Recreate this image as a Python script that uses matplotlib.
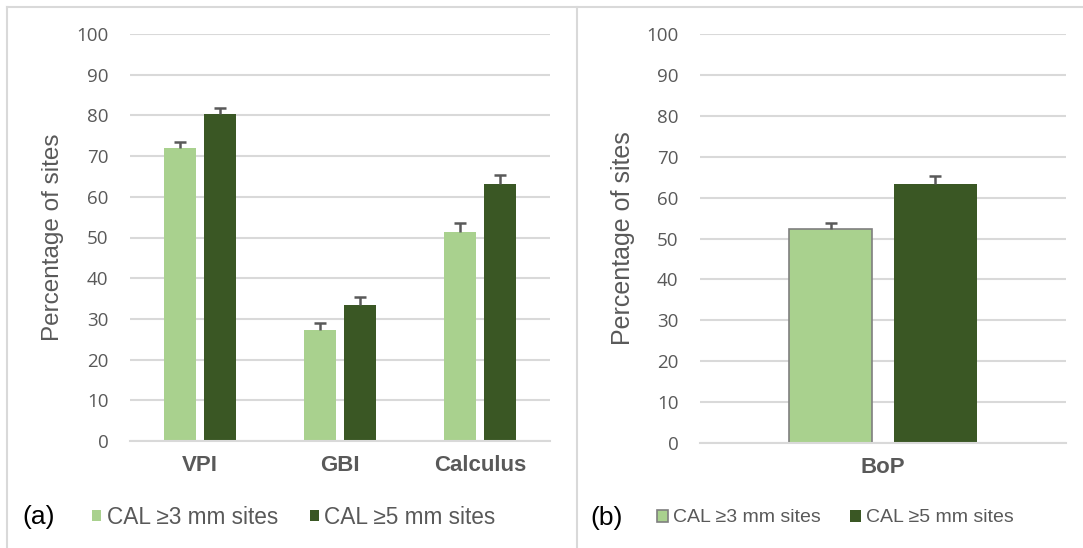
import numpy as np
import matplotlib
matplotlib.use("Agg")
import matplotlib.pyplot as plt
from matplotlib.lines import Line2D

plt.rcParams['font.family'] = ['Liberation Sans', 'DejaVu Sans']

# panel (a)
categories_a = ["VPI", "GBI", "Calculus"]
cal3_a = [72.0, 27.2, 51.3]
cal5_a = [80.3, 33.3, 63.2]
err3_a = [1.5, 1.9, 2.2]
err5_a = [1.5, 2.0, 2.1]

# panel (b)
categories_b = ["BoP"]
cal3_b = [52.3]
cal5_b = [63.3]
err3_b = [1.6]
err5_b = [1.9]

series_names = ["CAL \u22653 mm sites", "CAL \u22655 mm sites"]
yticks = list(range(0, 101, 10))

LIGHT = "#A9D18E"
DARK = "#3A5724"
GRID = "#D9D9D9"
TXT = "#595959"

W, H = 1083, 548
fig = plt.figure(figsize=(W / 100, H / 100), dpi=100)


def style_axes(ax, cats):
    ax.set_ylim(0, 100)
    ax.set_xlim(-0.5, len(cats) - 0.5)
    ax.set_yticks(yticks)
    ax.set_xticks(np.arange(len(cats)))
    ax.set_xticklabels(cats, fontsize=16, fontweight="bold", color=TXT)
    ax.set_yticklabels([str(t) for t in yticks], fontsize=13.5, color=TXT,
                       fontfamily="Open Sans")
    ax.tick_params(axis="y", length=0, pad=15.5)
    ax.tick_params(axis="x", length=0, pad=10)
    for s in ["top", "right", "left"]:
        ax.spines[s].set_visible(False)
    ax.spines["bottom"].set_color(GRID)
    ax.spines["bottom"].set_linewidth(1.5)
    ax.grid(axis="y", color=GRID, linewidth=1.5)
    ax.set_axisbelow(True)


def plus_error(ax, xs, vals, errs):
    # Excel style "plus" error bar: stem up from the bar top and one cap
    vals = np.asarray(vals)
    errs = np.asarray(errs)
    ax.errorbar(xs, vals, yerr=[np.zeros(len(errs)), errs], fmt="none",
                ecolor=TXT, elinewidth=1.8, capsize=0)
    ax.plot(xs, vals + errs, ls="none", marker="_", markersize=8.5,
            mew=1.8, color=TXT)


# ---- (a)
ax1 = fig.add_axes([130 / W, (H - 441) / H, 420 / W, 407 / H])
x = np.arange(len(categories_a))
bw, off = 0.229, 0.143
b1 = ax1.bar(x - off, cal3_a, bw, color=LIGHT, label=series_names[0])
b2 = ax1.bar(x + off, cal5_a, bw, color=DARK, label=series_names[1])
plus_error(ax1, x - off, cal3_a, err3_a)
plus_error(ax1, x + off, cal5_a, err5_a)
style_axes(ax1, categories_a)
ax1.set_ylabel("Percentage of sites", fontsize=17.5, color=TXT)
ax1.yaxis.label.set_va("center")
ax1.yaxis.set_label_coords(53 / W, 1 - 237.5 / H, transform=fig.transFigure)
ax1.legend(handles=[b1, b2], loc="center left",
           bbox_to_anchor=(92 / W, 1 - 517 / H), bbox_transform=fig.transFigure,
           ncol=2, frameon=False, fontsize=16.3, labelcolor=TXT,
           handlelength=0.4, handleheight=0.4, handletextpad=0.25,
           columnspacing=1.4, borderpad=0, borderaxespad=0)

# ---- (b)
ax2 = fig.add_axes([700 / W, (H - 443) / H, 366 / W, 409 / H])
xb = np.arange(len(categories_b))
bw2, off2 = 0.227, 0.143
c1 = ax2.bar(xb - off2, cal3_b, bw2, color=LIGHT, edgecolor="#7F7F7F", linewidth=1.2,
             label=series_names[0])
c2 = ax2.bar(xb + off2, cal5_b, bw2, color=DARK, label=series_names[1])
plus_error(ax2, xb - off2, cal3_b, err3_b)
plus_error(ax2, xb + off2, cal5_b, err5_b)
style_axes(ax2, categories_b)
ax2.set_ylabel("Percentage of sites", fontsize=18, color=TXT)
ax2.yaxis.label.set_va("center")
ax2.yaxis.set_label_coords(623 / W, 1 - 238.5 / H, transform=fig.transFigure)
ax2.legend(handles=[c1, c2], loc="center left",
           bbox_to_anchor=(657 / W, 1 - 518 / H), bbox_transform=fig.transFigure,
           ncol=2, frameon=False, fontsize=14, labelcolor=TXT,
           handlelength=0.57, handleheight=0.57, handletextpad=0.26,
           columnspacing=1.5, borderpad=0, borderaxespad=0)

# panel letters
fig.text(22 / W, 1 - 517 / H, "(a)", fontsize=19, va="center", ha="left")
fig.text(590 / W, 1 - 518 / H, "(b)", fontsize=19, va="center", ha="left")

# frame lines
fig.add_artist(Line2D([7 / W, 1], [1 - 7 / H, 1 - 7 / H], color=GRID, lw=1.5))
fig.add_artist(Line2D([7 / W, 7 / W], [0, 1 - 7 / H], color=GRID, lw=1.5))
fig.add_artist(Line2D([577 / W, 577 / W], [0, 1 - 7 / H], color=GRID, lw=1.5))

fig.savefig("out.png", dpi=100)
